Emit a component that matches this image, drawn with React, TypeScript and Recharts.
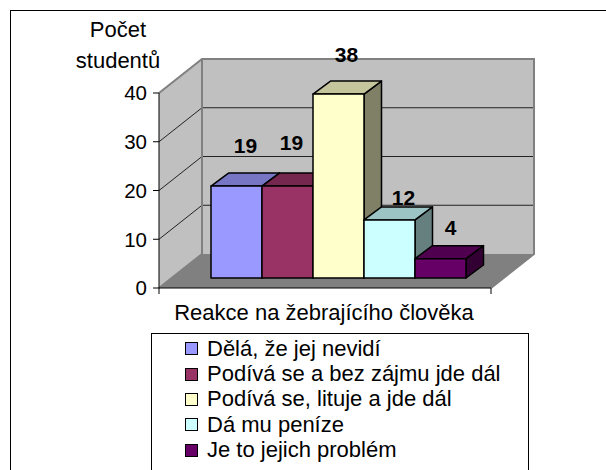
import React from 'react';
import { BarChart, Bar, XAxis, YAxis, Legend, ReferenceArea, LabelList } from 'recharts';

const seriesNames = [
  'Dělá, že jej nevidí',
  'Podívá se a bez zájmu jde dál',
  'Podívá se, lituje a jde dál',
  'Dá mu peníze',
  'Je to jejich problém',
];
const seriesValues = [19, 19, 38, 12, 4];
const seriesColors = ['#9999FF', '#993366', '#FFFFCC', '#CCFFFF', '#660066'];
const labelOffsets = [
  [9, -32],
  [4, -35],
  [8, -31],
  [14, -15],
  [10, -24],
];
const yTicks = [0, 10, 20, 30, 40];
const categoryNames = ['Reakce'];
const xTitle = 'Reakce na žebrajícího člověka';
const yTitle = ['Počet', 'studentů'];

const keys = seriesNames.map((_, i) => `s${i}`);
const chartData = categoryNames.map((name) => {
  const row: Record<string, string | number> = { name };
  keys.forEach((k, i) => {
    row[k] = seriesValues[i];
  });
  return row;
});

const FONT = '"Liberation Sans", Arial, sans-serif';
const WALL_DX = 43;
const WALL_DY = -34;
const BAR_DX = 17.5;
const BAR_DY = -13;
const BAR_FRONT_DX = 13;
const BAR_FRONT_DY = -10;
const BAR_SCALE = 0.993;

function shade(hex: string, k: number) {
  const n = parseInt(hex.slice(1), 16);
  const c = [(n >> 16) & 255, (n >> 8) & 255, n & 255].map((v) => Math.round(v * k));
  return `rgb(${c[0]},${c[1]},${c[2]})`;
}

function Walls(props: any) {
  const { x, y, width, height } = props;
  const b = y + height;
  const r = x + width;
  const pts = (a: number[][]) => a.map((p) => p.join(',')).join(' ');
  return (
    <g>
      <polygon points={pts([[x, y], [x + WALL_DX, y + WALL_DY], [x + WALL_DX, b + WALL_DY], [x, b]])} fill="#C0C0C0" />
      <polygon points={pts([[x + WALL_DX, y + WALL_DY], [r + WALL_DX, y + WALL_DY], [r + WALL_DX, b + WALL_DY], [x + WALL_DX, b + WALL_DY]])} fill="#C0C0C0" />
      <polygon points={pts([[x, b], [x + WALL_DX, b + WALL_DY], [r + WALL_DX, b + WALL_DY], [r, b]])} fill="#808080" />
      {yTicks.slice(1, -1).map((t) => {
        const ty = b - (height * t) / yTicks[yTicks.length - 1];
        return (
          <polyline
            key={t}
            points={pts([[x, ty], [x + WALL_DX, ty + WALL_DY], [r + WALL_DX, ty + WALL_DY]])}
            fill="none"
            stroke="#222"
            strokeWidth={1}
          />
        );
      })}
      <polyline
        points={pts([[x, y], [x + WALL_DX, y + WALL_DY], [r + WALL_DX, y + WALL_DY], [r + WALL_DX, b + WALL_DY], [r, b]])}
        fill="none"
        stroke="#808080"
        strokeWidth={2}
      />
      <polyline
        points={pts([[x + WALL_DX, y + WALL_DY], [x + WALL_DX, b + WALL_DY], [x, b]])}
        fill="none"
        stroke="#808080"
        strokeWidth={2}
      />
      <line x1={x} y1={b} x2={x} y2={b + 6} stroke="#000" />
      <line x1={r} y1={b} x2={r} y2={b + 6} stroke="#000" />
      <line x1={x} y1={b} x2={r} y2={b} stroke="#000" />
    </g>
  );
}

function Bar3D(props: any) {
  const { x, y, width, height, fill } = props;
  const h = height * BAR_SCALE;
  const l = x + BAR_FRONT_DX;
  const bottom = y + height + BAR_FRONT_DY;
  const t = bottom - h;
  const r = l + width;
  const pts = (a: number[][]) => a.map((p) => p.join(',')).join(' ');
  const common = { stroke: '#000', strokeWidth: 1.5, strokeLinejoin: 'round' as const };
  return (
    <g>
      <polygon points={pts([[r, t], [r + BAR_DX, t + BAR_DY], [r + BAR_DX, bottom + BAR_DY], [r, bottom]])} fill={shade(fill, 0.5)} {...common} />
      <polygon points={pts([[l, t], [l + BAR_DX, t + BAR_DY], [r + BAR_DX, t + BAR_DY], [r, t]])} fill={shade(fill, 0.77)} {...common} />
      <rect x={l} y={t} width={width} height={h} fill={fill} {...common} />
    </g>
  );
}

function makeLabel(i: number) {
  return (props: any) => {
    const { x, y, width, value } = props;
    return (
      <text
        x={x + width / 2 + BAR_FRONT_DX + labelOffsets[i][0]}
        y={y + BAR_FRONT_DY + labelOffsets[i][1]}
        textAnchor="middle"
        fontFamily={FONT}
        fontSize={21}
        fontWeight="bold"
        fill="#000"
      >
        {value}
      </text>
    );
  };
}

function LegendBox(props: any) {
  const items = props.payload || [];
  return (
    <div style={{ width: 376, height: 200, border: '1px solid #000', background: '#fff', boxSizing: 'content-box', paddingTop: 2 }}>
      {items.map((it: any) => (
        <div key={it.value} style={{ display: 'flex', alignItems: 'center', height: 25.4, paddingLeft: 33 }}>
          <span style={{ width: 11, height: 11, background: it.color, border: '1.5px solid #000', display: 'inline-block', marginRight: 9 }} />
          <span style={{ fontFamily: FONT, fontSize: 22, color: '#000', whiteSpace: 'nowrap' }}>{it.value}</span>
        </div>
      ))}
    </div>
  );
}

function YTitle(props: any) {
  return (
    <text fontFamily={FONT} fontSize={22} fill="#000" textAnchor="middle">
      <tspan x={118} y={37}>{yTitle[0]}</tspan>
      <tspan x={118} y={68}>{yTitle[1]}</tspan>
    </text>
  );
}

function XTitle(props: any) {
  return (
    <text x={324} y={320} fontFamily={FONT} fontSize={22} fill="#000" textAnchor="middle">
      {xTitle}
    </text>
  );
}

export default function App() {
  return (
    <div style={{ position: 'fixed', left: 0, top: 0, width: 606, height: 470, overflow: 'hidden', background: '#fff' }}>
      <div style={{ position: 'absolute', left: 10, top: 10, width: 620, height: 500, borderLeft: '1px solid #000', borderTop: '1px solid #000' }} />
      <div style={{ position: 'absolute', left: 0, top: 0 }}>
        <BarChart
          width={606}
          height={470}
          data={chartData}
          margin={{ top: 93, right: 115, bottom: 152, left: 109 }}
          barCategoryGap={39}
          barGap={0}
        >
          <ReferenceArea y1={0} y2={40} shape={Walls} ifOverflow="visible" />
          <XAxis dataKey="name" tick={false} tickLine={false} axisLine={false} height={30} label={<XTitle />} />
          <YAxis
            type="number"
            domain={[0, 40]}
            ticks={yTicks}
            width={50}
            tickSize={6}
            tickMargin={6}
            stroke="#000"
            tick={{ fontFamily: FONT, fontSize: 20.5, fill: '#000' }}
            label={<YTitle />}
          />
          <Legend
            content={<LegendBox />}
            itemSorter={null}
            wrapperStyle={{ position: 'absolute', left: 151, top: 333, width: 378, height: 0, bottom: 'auto' }}
          />
          {keys.map((k, i) => (
            <Bar key={k} dataKey={k} name={seriesNames[i]} fill={seriesColors[i]} shape={<Bar3D />} isAnimationActive={false}>
              <LabelList dataKey={k} content={makeLabel(i)} />
            </Bar>
          ))}
        </BarChart>
      </div>
    </div>
  );
}
